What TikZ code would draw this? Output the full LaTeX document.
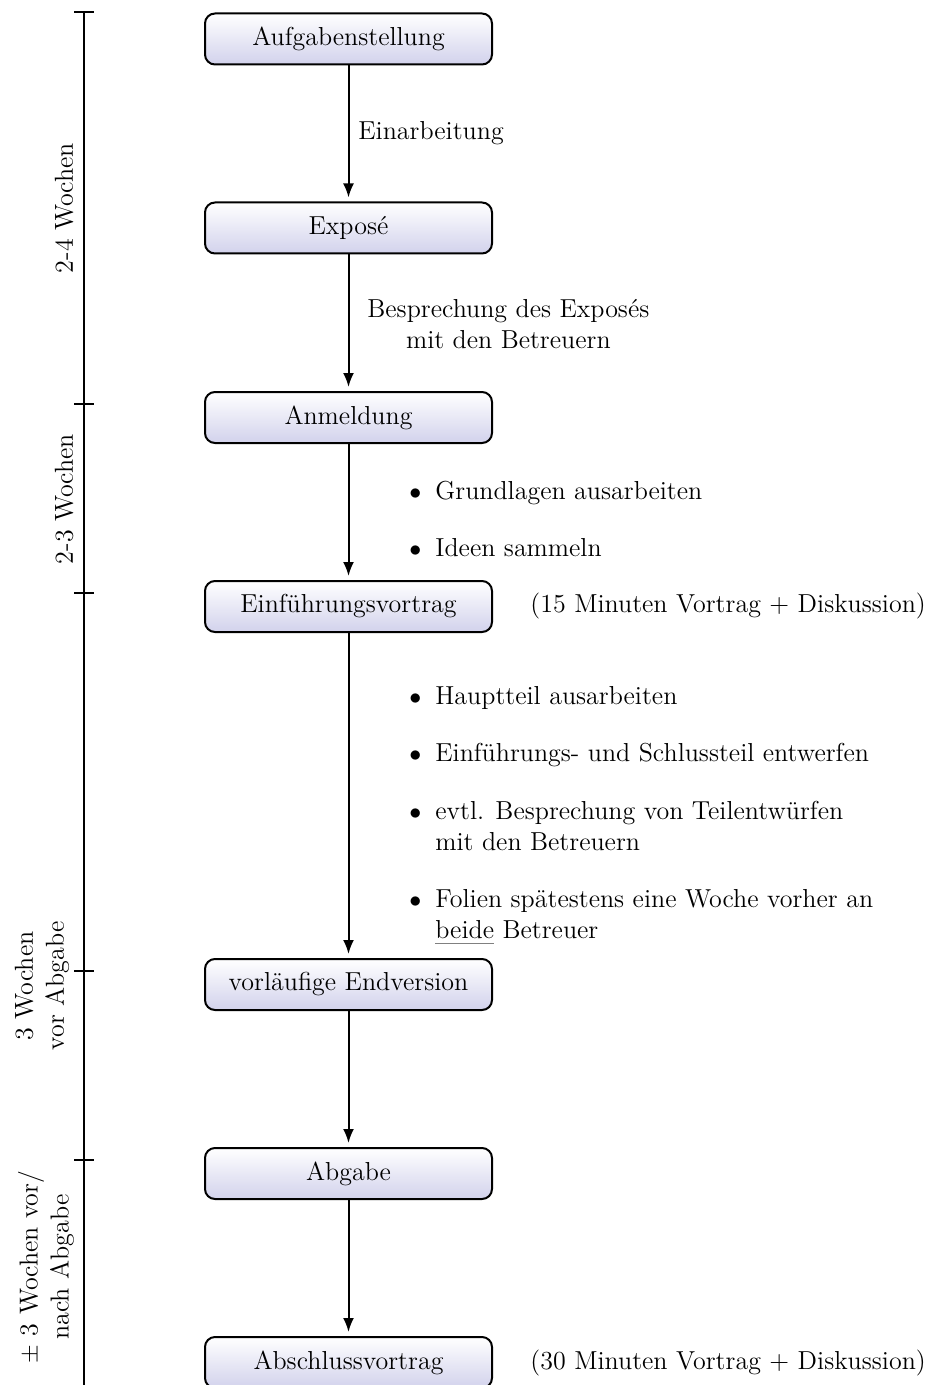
\documentclass[tikz,border=0pt]{standalone}
\usetikzlibrary{arrows.meta}
\definecolor{lav}{RGB}{210,210,236}
\newcommand\fs{\fontsize{13}{15.5}\selectfont}
\newcommand\bul{\llap{$\bullet$\hspace{7pt}}}
\newcommand\twoline[2]{\vtop{\hbox{#1}\hbox{#2}}}
\newcommand\grayul[1]{\setbox0\hbox{#1}\rlap{\copy0}{\color{gray}\rule[-3pt]{\wd0}{0.6pt}}}
\tikzset{
  stage/.style={draw, line width=1pt, rounded corners=5pt, top color=white,
    bottom color=lav, minimum width=143.5pt, minimum height=25.5pt,
    inner sep=0pt, font=\fs},
  arr/.style={line width=1pt, -{Latex[length=7pt,width=5.5pt]}, shorten >=2pt},
  note/.style={inner sep=0pt, font=\fs},
  item/.style={inner sep=0pt, anchor=base west, font=\fs},
  span/.style={rotate=90, inner sep=0pt, align=center, font=\fs},
  tl/.style={line width=1pt},
}
\begin{document}
\begin{tikzpicture}[x=0.5pt,y=-0.5pt]
\useasboundingbox (0,0) rectangle (927,1385);
% stages
\node[stage] (a) at (348.5,39) {Aufgabenstellung};
\node[stage] (b) at (348.5,228) {Exposé};
\node[stage] (c) at (348.5,417.5) {Anmeldung};
\node[stage] (d) at (348.5,606.5) {Einführungsvortrag};
\node[stage] (e) at (348.5,984.5) {vorläufige Endversion};
\node[stage] (f) at (348.5,1173.5) {Abgabe};
\node[stage] (g) at (348.5,1362.5) {Abschlussvortrag};
% arrows
\draw[arr] (a) -- (b);
\draw[arr] (b) -- (c);
\draw[arr] (c) -- (d);
\draw[arr] (d) -- (e);
\draw[arr] (e) -- (f);
\draw[arr] (f) -- (g);
% arrow labels
\node[note, anchor=west] (la) at (358,133) {Einarbeitung};
\node[note, anchor=west, align=center] (lb) at (367,324) {Besprechung des Exposés\\mit den Betreuern};
\node[item] (i1) at (435,499) {\bul Grundlagen ausarbeiten};
\node[item] (i2) at (435,556) {\bul Ideen sammeln};
\node[item] (j1) at (435,704) {\bul Hauptteil ausarbeiten};
\node[item] (j2) at (435,761) {\bul Einführungs- und Schlussteil entwerfen};
\node[item] (j3) at (435,819) {\twoline{\bul evtl. Besprechung von Teilentwürfen}{mit den Betreuern}};
\node[item] (j4) at (435,907) {\twoline{\bul Folien spätestens eine Woche vorher an}{\grayul{beide} Betreuer}};
% side notes
\node[note, anchor=west] (nd) at (530,606.5) {(15 Minuten Vortrag + Diskussion)};
\node[note, anchor=west] (ng) at (530,1362.5) {(30 Minuten Vortrag + Diskussion)};
% timeline
\coordinate (t0) at (84,12.5);
\coordinate (t1) at (84,404);
\coordinate (t2) at (84,593);
\coordinate (t3) at (84,971);
\coordinate (t4) at (84,1160);
\coordinate (tb) at (84,1386);
\draw[tl] (t0) -- (tb);
\foreach \t in {t0,t1,t2,t3,t4}{
  \draw[tl] ([xshift=-5pt]\t) -- ([xshift=5pt]\t);
}
\node[span] (s1) at (64,208) {2-4 Wochen};
\node[span] (s2) at (64,499) {2-3 Wochen};
\node[span] (s3) at (42,986) {3 Wochen\\vor Abgabe};
\node[span] (s4) at (46,1267) {$\pm$ 3 Wochen vor/\\nach Abgabe};
\end{tikzpicture}
\end{document}
